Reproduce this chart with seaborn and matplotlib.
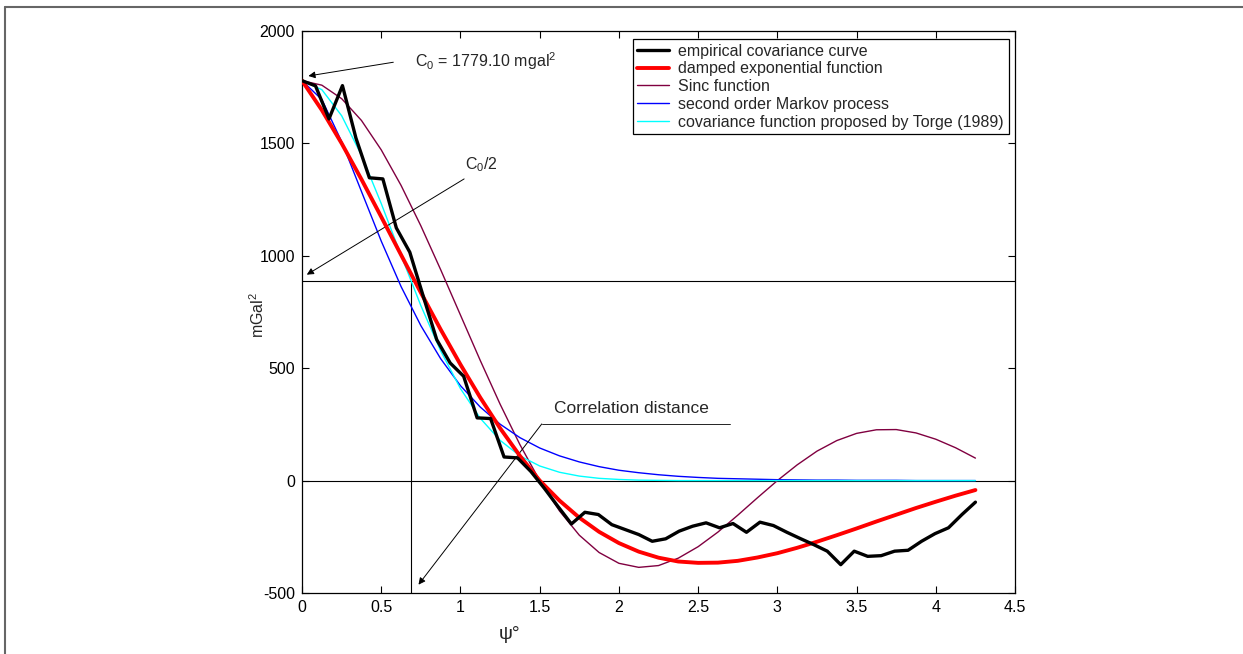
import numpy as np
import matplotlib
matplotlib.use("Agg")
import matplotlib.pyplot as plt
import seaborn as sns
from matplotlib.lines import Line2D

# ---------------- data ----------------
C0 = 1779.10

psi_emp = np.linspace(0, 4.25, 51)
cov_emp = [1779, 1756, 1609, 1757, 1524, 1347, 1342, 1124, 1016, 820,
           627, 523, 464, 279, 276, 105, 101, 40, -35, -115,
           -193, -141, -151, -196, -218, -240, -270, -259, -225, -203,
           -188, -210, -191, -230, -185, -200, -230, -258, -285, -314,
           -374, -314, -337, -334, -314, -310, -270, -236, -210, -151,
           -96]

psi_mod = np.linspace(0, 4.25, 35)
cov_damped = [1779, 1648, 1500, 1340, 1173, 1004, 836, 672, 516, 369,
              233, 110, 0, -89, -165, -228, -278, -316, -343, -360,
              -366, -365, -357, -342, -323, -299, -272, -243, -213, -182,
              -152, -122, -94, -67, -42]
cov_sinc = [1779, 1759, 1699, 1602, 1471, 1313, 1133, 938, 736, 534,
            340, 160, 0, -135, -243, -320, -368, -386, -378, -345,
            -294, -229, -154, -76, 0, 70, 131, 178, 210, 226,
            227, 212, 184, 146, 100]
cov_markov = [1779, 1695, 1508, 1286, 1065, 863, 689, 542, 422, 327,
              251, 191, 145, 110, 83, 62, 46, 35, 26, 19,
              14, 10, 8, 6, 4, 3, 2, 2, 1, 1,
              1, 0, 0, 0, 0]
cov_torge = [1779, 1739, 1623, 1447, 1232, 1002, 778, 577, 409, 277,
             179, 110, 65, 37, 20, 10, 5, 2, 1, 0,
             0, 0, 0, 0, 0, 0, 0, 0, 0, 0,
             0, 0, 0, 0, 0]

labels = ["empirical covariance curve", "damped exponential function",
          "Sinc function", "second order Markov process",
          "covariance function proposed by Torge (1989)"]

x_ticks = [0, 0.5, 1, 1.5, 2, 2.5, 3, 3.5, 4, 4.5]
x_tick_labels = ["0", "0.5", "1", "1.5", "2", "2.5", "3", "3.5", "4", "4.5"]
y_ticks = [-500, 0, 500, 1000, 1500, 2000]
y_tick_labels = ["-500", "0", "500", "1000", "1500", "2000"]

corr_dist = 0.69

# ---------------- style ----------------
sns.set_theme(style="white")
plt.rcParams["font.family"] = ["Liberation Sans", "DejaVu Sans"]
plt.rcParams["mathtext.fontset"] = "custom"
plt.rcParams["mathtext.rm"] = "Liberation Sans"
plt.rcParams["mathtext.it"] = "Liberation Sans"

FS = 11.5

fig = plt.figure(figsize=(12.43, 6.54), dpi=100)
ax = fig.add_axes([0.2430, 0.0933, 0.5736, 0.8593])

# reference lines
ax.axhline(C0 / 2, color="black", lw=0.8, zorder=1)
ax.axhline(0, color="black", lw=0.8, zorder=1)
ax.plot([corr_dist, corr_dist], [-500, C0 / 2], color="black", lw=0.8, zorder=1)

# curves
sns.lineplot(x=psi_emp, y=cov_emp, ax=ax, color="black", lw=2.4,
             label=labels[0], zorder=5)
sns.lineplot(x=psi_mod, y=cov_damped, ax=ax, color="#ff0000", lw=2.8,
             label=labels[1], zorder=4)
sns.lineplot(x=psi_mod, y=cov_sinc, ax=ax, color="#800040", lw=1.0,
             label=labels[2], zorder=3)
sns.lineplot(x=psi_mod, y=cov_markov, ax=ax, color="#0000ff", lw=1.0,
             label=labels[3], zorder=3)
sns.lineplot(x=psi_mod, y=cov_torge, ax=ax, color="#00ffff", lw=1.0,
             label=labels[4], zorder=3)

ax.set_xlim(0, 4.5)
ax.set_ylim(-500, 2000)
ax.set_xticks(x_ticks)
ax.set_xticklabels(x_tick_labels)
ax.set_yticks(y_ticks)
ax.set_yticklabels(y_tick_labels)
ax.tick_params(direction="in", length=5, width=0.8, labelsize=FS,
               top=True, right=True, bottom=True, left=True,
               colors="black", pad=5)
for s in ax.spines.values():
    s.set_visible(True)
    s.set_color("black")
    s.set_linewidth(0.9)

# axis labels
ax.set_xlabel("ψ°", fontsize=14)
ax.xaxis.set_label_coords((510 - 302) / 713, -(635 - 593) / 562)
ax.xaxis.label.set_va("center")
ax.set_ylabel("mGal$^2$", fontsize=FS)
ax.yaxis.set_label_coords((258 - 302) / 713, (593 - 315) / 562)
ax.yaxis.label.set_va("center")

leg = ax.legend(loc="upper right", bbox_to_anchor=(0.991, 0.986),
                fontsize=FS, frameon=True, fancybox=False, shadow=False,
                edgecolor="black", framealpha=1, handlelength=2.0,
                labelspacing=0.17, borderpad=0.3, handletextpad=0.55,
                borderaxespad=0)
leg.get_frame().set_linewidth(0.9)

arrow = dict(arrowstyle="-|>", color="black", lw=0.7, mutation_scale=10,
             shrinkA=0, shrinkB=0)
ax.annotate("", xy=(0.04, 1800), xytext=(0.576, 1861), arrowprops=arrow)
ax.text(0.71, 1865, "C$_0$ = 1779.10 mgal$^2$", fontsize=FS, va="center",
        ha="left")
ax.annotate("", xy=(0.03, 916), xytext=(1.023, 1342), arrowprops=arrow)
ax.text(1.03, 1405, "C$_0$/2", fontsize=FS, va="center", ha="left")

ax.plot([1.513, 2.702], [252, 252], color="black", lw=0.6)
ax.annotate("", xy=(0.735, -463), xytext=(1.513, 252), arrowprops=arrow)
ax.text(2.08, 320, "Correlation distance", fontsize=12.5, va="center",
        ha="center")

# figure frame (top and left edges)
fig.add_artist(Line2D([5.0 / 1243, 1], [1 - 6.5 / 654, 1 - 6.5 / 654],
                      transform=fig.transFigure, color="#666666", lw=1.5))
fig.add_artist(Line2D([5.0 / 1243, 5.0 / 1243], [0, 1 - 6.5 / 654],
                      transform=fig.transFigure, color="#666666", lw=1.5))

fig.savefig("out.png", dpi=100, facecolor="white")
